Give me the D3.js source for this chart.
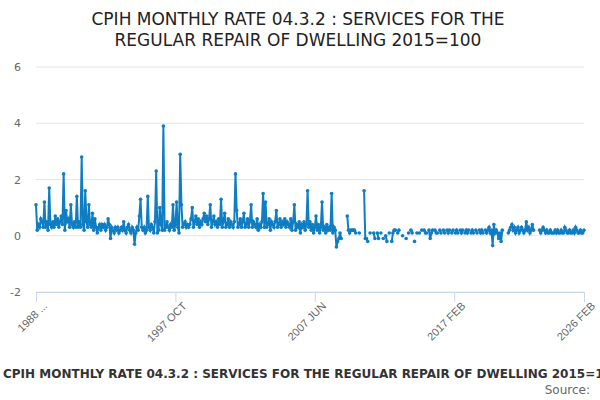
<!DOCTYPE html>
<html><head><meta charset="utf-8">
<script src="https://cdn.jsdelivr.net/npm/d3@7"></script>
<style>body{margin:0;background:#fff;font-family:"DejaVu Sans",sans-serif}</style>
</head><body><div id="chart"></div>
<script>
var w = 600, h = 400;

// months from 1988 FEB to 2026 FEB
var startYear = 1988, startMonth = 1;
var monthNames = ["JAN","FEB","MAR","APR","MAY","JUN","JUL","AUG","SEP","OCT","NOV","DEC"];
var tickLabels = ["1988 FEB","1997 OCT","2007 JUN","2017 FEB","2026 FEB"];
var yTicks = [-2, 0, 2, 4, 6];

var values = [].concat(
 [1.1,0.2,0.4,0.3,0.6,0.5,0.3,1.2,0.3,0.5,0.2],           // 1988
 [1.7,0.4,0.3,0.5,0.3,0.7,0.4,0.6,0.3,0.5,0.7,0.4],       // 1989
 [2.2,0.2,0.9,0.5,0.6,0.3,1.1,0.4,0.3,0.5,0.3,1.4],
 [0.3,0.5,0.3,2.8,0.4,0.2,1.6,0.5,0.3,1.1,0.4,0.3],
 [0.8,0.2,0.6,0.3,0.1,0.3,0.4,0.2,0.4,0.3,0.4,0.2],
 [0.3,0.6,0.4,-0.1,0.3,0.2,0.1,0.3,0.2,0.3,0.1,0.2],
 [0.3,0.2,0.5,0.2,0.1,0.3,0.4,0.2,0.1,0.3,0.2,-0.3],
 [0.1,0.3,0.2,0.7,1.3,0.3,0.2,0.3,0.1,0.2,1.4,0.3],
 [0.2,0.4,0.3,0.1,0.5,2.3,0.1,0.2,1.0,0.4,0.2,3.9],
 [0.2,0.3,0.5,0.3,0.2,0.4,0.3,1.1,0.2,0.4,1.2,0.3],
 [0.1,2.9,1.1,0.3,0.4,0.5,0.3,0.4,0.3,0.4,0.6,1.0],
 [0.3,0.5,0.7,0.4,0.6,0.3,0.5,0.4,0.6,0.8,0.5,0.7],
 [0.4,0.6,1.1,0.3,0.5,0.7,0.4,0.5,0.3,0.6,0.4,1.3],
 [0.3,0.5,0.8,0.3,0.4,0.6,0.3,0.5,0.4,0.3,0.5,2.2],
 [0.9,0.3,0.4,0.6,0.3,0.5,0.8,0.3,0.4,0.6,0.3,0.5],
 [1.1,0.3,0.5,0.4,0.3,0.6,0.2,0.4,0.3,0.5,1.5,0.3],
 [1.2,0.3,0.4,0.6,0.2,0.5,0.4,0.3,0.5,0.9,0.3,0.4],
 [0.6,0.3,0.5,0.4,0.6,0.3,0.5,0.4,0.3,0.6,0.2,0.5],
 [1.1,0.2,0.4,0.3,0.5,0.1,0.4,0.3,0.5,0.2,0.4,1.6],
 [0.3,0.5,0.2,0.4,0.1,0.3,0.7,0.2,0.4,0.1,0.3,1.2],
 [0.2,0.3,0.1,0.4,0.2,0.3,0.2,1.5,0.1,0.3,0.2,-0.4],
 [-0.2,-0.1,0.1,-0.1,null,null,null,null,0.7,0.2,0.1,0.2],
 [0.2,0.2,0.2,0.1,null,null,0.1,null,null,null,1.6,-0.1],
 [-0.1,-0.2,null,0.1,null,null,0.1,-0.1,null,0.1,-0.1,null],
 [0.1,null,-0.1,null,0.0,-0.2,null,0.1,null,-0.2,0.1,0.2],
 [0.2,null,0.1,0.2,null,null,0.0,null,null,-0.1,null,0.1],
 [null,0.2,0.1,null,-0.2,null,0.1,null,0.1,null,0.2,null],
 [0.2,0.1,0.1,null,0.2,-0.1,0.1,0.2,null,0.2,0.1,0.1],
 [null,0.2,0.1,null,0.2,0.1,null,0.2,0.1,0.2,null,0.1],
 [0.2,null,0.1,0.2,0.1,null,0.2,0.1,0.2,null,0.1,0.2],
 [0.1,0.2,null,0.1,0.2,0.1,null,0.2,0.1,null,0.2,0.1],
 [0.2,0.1,null,0.2,0.1,0.2,0.3,0.1,0.2,-0.35,0.4,0.1],
 [0.2,0.1,-0.1,0.1,-0.2,0.2,null,null,null,null,0.1,0.2],
 [0.3,0.4,0.2,0.3,0.1,0.2,0.3,0.1,0.2,0.3,0.2,0.1],
 [0.2,0.5,0.2,0.3,0.1,0.2,0.4,0.2,null,null,null,null],
 [0.2,0.1,0.2,0.3,0.2,0.1,0.2,0.1,0.1,0.2,0.1,0.1],
 [0.1,0.2,0.1,0.2,0.1,0.1,0.2,0.1,0.1,0.3,0.2,0.1],
 [0.1,0.2,0.1,0.1,0.2,0.1,0.3,0.2,0.1,0.1,0.2,0.1],      // 2025
 [0.1,0.2]                                                // 2026
);

var data = values.map(function(v, i) {
  var m = startMonth + i;
  return { label: (startYear + Math.floor(m / 12)) + " " + monthNames[m % 12], value: v };
});

var svg = d3.select("#chart").append("svg").attr("width", w).attr("height", h);

var xScale = d3.scalePoint().domain(data.map(function(d){ return d.label; })).range([36, 584]);
var yScale = d3.scaleLinear().domain([-2, 6]).range([292, 67]);

// title
svg.append("text").attr("x", 298).attr("y", 25).attr("text-anchor", "middle")
  .style("font-size", "17px").style("fill", "#222").text("CPIH MONTHLY RATE 04.3.2 : SERVICES FOR THE");
svg.append("text").attr("x", 298).attr("y", 46).attr("text-anchor", "middle")
  .style("font-size", "17px").style("fill", "#222").text("REGULAR REPAIR OF DWELLING 2015=100");

// gridlines + y labels
svg.selectAll(".grid").data(yTicks).enter().append("line")
  .attr("x1", 36).attr("x2", 584)
  .attr("y1", function(d){ return yScale(d); }).attr("y2", function(d){ return yScale(d); })
  .attr("stroke", "#e6e6e6");
svg.selectAll(".ylab").data(yTicks).enter().append("text")
  .attr("x", 21).attr("y", function(d){ return yScale(d) + 4; })
  .attr("text-anchor", "end").style("font-size", "11px").style("fill", "#666")
  .text(function(d){ return d; });

// x axis
var xAxis = svg.append("g").attr("transform", "translate(0,292)")
  .call(d3.axisBottom(xScale).tickValues(tickLabels).tickSize(10).tickFormat(function(d){
    return d == "1988 FEB" ? "1988 ..." : d; }));
xAxis.select(".domain").attr("stroke", "#ccd6eb");
xAxis.selectAll(".tick line").attr("stroke", "#ccd6eb");
xAxis.selectAll("text").style("font-size", "11px").style("fill", "#666")
  .style("text-anchor", "end").attr("dx", "-0.2em").attr("dy", "0.5em")
  .attr("transform", "rotate(-45)");

// line and points
var line = d3.line().defined(function(d){ return d.value !== null; })
  .x(function(d){ return xScale(d.label); }).y(function(d){ return yScale(d.value); });
svg.append("path").datum(data).attr("d", line)
  .attr("fill", "none").attr("stroke", "#0f7dc2").attr("stroke-width", 2);
svg.selectAll(".pt").data(data.filter(function(d){ return d.value !== null; })).enter().append("circle")
  .attr("cx", function(d){ return xScale(d.label); }).attr("cy", function(d){ return yScale(d.value); })
  .attr("r", 1.8).attr("fill", "#0f7dc2");

// footer
svg.append("text").attr("x", 3).attr("y", 378).style("font-size", "12px").style("font-weight", "bold")
  .style("fill", "#333").text("CPIH MONTHLY RATE 04.3.2 : SERVICES FOR THE REGULAR REPAIR OF DWELLING 2015=100");
svg.append("text").attr("x", 590).attr("y", 394).attr("text-anchor", "end").style("font-size", "12px")
  .style("fill", "#666").text("Source:");
</script></body></html>
